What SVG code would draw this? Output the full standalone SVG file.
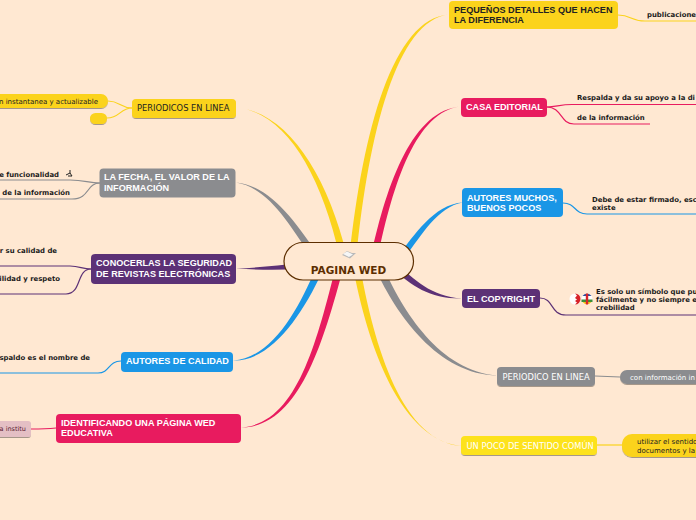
<svg xmlns="http://www.w3.org/2000/svg" width="696" height="520" viewBox="0 0 696 520">
<defs><filter id="s" x="-10%" y="-20%" width="120%" height="150%"><feDropShadow dx="0" dy="1" stdDeviation="0.6" flood-color="#000" flood-opacity="0.35"/></filter></defs>
<style>
.n{filter:url(#s)}
text{font-family:"Liberation Sans",Arial,sans-serif}
.b{font-weight:bold;font-size:9.1px;fill:#fff}
.k{fill:#222}
.r{font-family:"DejaVu Sans",sans-serif;font-size:8.3px}
.t{font-family:"DejaVu Sans",sans-serif;font-weight:bold;font-size:6.9px;fill:#1a1a1a}
.u{font-family:"DejaVu Sans",sans-serif;font-size:7px}
.l{fill:none;stroke-width:1.2}
.y{fill:#fbd31c}.m{fill:#e81b5f}.c{fill:#1a96e6}.p{fill:#5c3176}.g{fill:#8b8c8f}
</style>
<rect width="696" height="520" fill="#ffe8d2"/>
<g id="connectors">
<path class="y" d="M341,262 C322,175 286,112 236,107.500 C288,112 328,175 348,260Z"/>
<path class="y" d="M349,261 C362,135 392,18 449,14.500 C396,20 368,137 356,261Z"/>
<path class="m" d="M370,261 C386,185 412,110 461,106.500 C415,111 392,187 377,261Z"/>
<path class="c" d="M395,259 C412,240 432,204 463,202.500 C434,207 416,246 399,264Z"/>
<path class="p" d="M395,262 C415,280 430,296 462,298.500 C430,299 412,286 392,268Z"/>
<path fill="#8b8c8f" d="M383,266 C402,310 440,372 498,375.500 C438,375 396,314 376,270Z"/>
<path class="y" d="M352,262 C368,350 402,441 462,446 C404,443 374,350 359,260Z"/>
<path fill="#8b8c8f" d="M317,253 C296,224 272,186 236,182.500 C270,188 291,228 313,259Z"/>
<path class="p" d="M300,263 C280,265 258,268 236,268.500 C258,270 280,270 300,269Z"/>
<path class="c" d="M316,268 C298,310 272,358 233,360.500 C270,362 302,316 322,272Z"/>
<path class="m" d="M336,266 C316,345 296,424 241,427.500 C298,427 322,347 343,269Z"/>
<g class="l">
<path stroke="#fbd31c" d="M132,108 C120,108 120,101 108,101"/>
<path stroke="#fbd31c" d="M132,108 C120,108 120,118 107,118"/>
<path stroke="#8b8c8f" d="M100,183 C88,183 85,180 70,180 L0,180"/>
<path stroke="#8b8c8f" d="M100,183 C86,183 90,199 72,199 L0,199"/>
<path stroke="#5c3176" d="M91,269 C82,269 80,266 70,266 L0,266"/>
<path stroke="#5c3176" d="M91,269 C76,269 82,294 66,294 L0,294"/>
<path stroke="#1a96e6" d="M121,361 C108,361 110,373 98,373 L0,373"/>
<path stroke="#e81b5f" d="M56,428 C46,429 40,429 31,429"/>
<path stroke="#fbd31c" d="M618,15 C632,15 630,21 645,21 L696,21"/>
<path stroke="#e81b5f" d="M547,107 C556,107 560,104.500 572,104.500 L696,104.500"/>
<path stroke="#e81b5f" d="M547,107 C562,107 560,124 574,124 L650,124"/>
<path stroke="#1a96e6" d="M563,203 C576,203 574,214 587,214 L696,214"/>
<path stroke="#5c3176" d="M540,298 C554,298 550,315 566,315 L696,315"/>
<path stroke="#8b8c8f" d="M595,376 L620,377"/>
<path stroke="#fbd31c" d="M597,445 L622,445"/>
</g>
</g>
<g id="center"><rect x="284" y="242.500" width="129.500" height="37.500" rx="19" fill="#ffe8d2" stroke="#5c2e00" stroke-width="1.200"/><path d="M342,255 L347,251 L352,253 L356,253 L350,258.500Z" fill="#b9b9b9"/><path d="M343,254 L347,251.500 L353,254.500 L349,257Z" fill="#f6f6f6"/><text x="348.500" y="274" text-anchor="middle" style="font-family:'DejaVu Sans',sans-serif;font-weight:bold;font-size:10.500px" fill="#5c2e00">PAGINA WED</text></g>
<g id="periodicos"><rect class="n y" x="132" y="99" width="104" height="19" rx="4"/><text class="r k" x="137" y="111">PERIODICOS EN LINEA</text></g>
<g id="periodicos-a"><rect class="n y" x="-10" y="94" width="118" height="14" rx="7"/><text class="k u" x="98" y="104" text-anchor="end">n instantanea y actualizable</text></g>
<g id="periodicos-b"><rect class="n y" x="90" y="113" width="17" height="11" rx="5.500"/></g>
<g id="fecha"><rect class="g" x="99.500" y="168.500" width="136" height="29" rx="4"/><text class="b" x="104" y="180">LA FECHA, EL VALOR DE LA</text><text class="b" x="104" y="191">INFORMACIÓN</text></g>
<g id="fecha-a"><text class="t" x="59" y="176.500" text-anchor="end">e funcionalidad</text><path d="M66,175 L70,173 L70,170 M70,173 L72,176 M68,176 L72,176" fill="none" stroke="#222" stroke-width="1"/></g>
<g id="fecha-b"><text class="t" x="70" y="195" text-anchor="end">de la información</text></g>
<g id="conocerlas"><rect class="p" x="91" y="254" width="145" height="30" rx="4"/><text class="b" x="96" y="266">CONOCERLAS LA SEGURIDAD</text><text class="b" x="96" y="277">DE REVISTAS ELECTRÓNICAS</text></g>
<g id="conocerlas-a"><text class="t" x="57" y="253" text-anchor="end">r su calidad de</text></g>
<g id="conocerlas-b"><text class="t" x="60" y="281" text-anchor="end">ilidad y respeto</text></g>
<g id="autores-calidad"><rect class="c" x="121" y="352" width="112" height="20" rx="4"/><text class="b" x="126" y="364">AUTORES DE CALIDAD</text></g>
<g id="autores-calidad-a"><text class="t" x="90" y="360" text-anchor="end">spaldo es el nombre de</text></g>
<g id="identificando"><rect class="m" x="56" y="414" width="185" height="29" rx="4"/><text class="b" x="61" y="426">IDENTIFICANDO UNA PÁGINA WED</text><text class="b" x="61" y="436">EDUCATIVA</text></g>
<g id="identificando-a"><rect class="n" x="-10" y="421" width="41" height="16" rx="3" fill="#e4bfc4"/><text x="26" y="431" text-anchor="end" fill="#5a1a30" style="font-family:'DejaVu Sans',sans-serif;font-size:6.500px">a institu</text></g>
<g id="pequenos"><rect class="y" x="449" y="1" width="169" height="28" rx="4"/><text class="b k" x="454" y="13">PEQUEÑOS DETALLES QUE HACEN</text><text class="b k" x="454" y="23">LA DIFERENCIA</text></g>
<g id="pequenos-a"><text class="t" x="647" y="17">publicacione</text></g>
<g id="casa"><rect class="m" x="461" y="98" width="86" height="19" rx="4"/><text class="b" x="466" y="110">CASA EDITORIAL</text></g>
<g id="casa-a"><text class="t" x="577" y="100">Respalda y da su apoyo a la di</text></g>
<g id="casa-b"><text class="t" x="577" y="120">de la información</text></g>
<g id="autores-muchos"><rect class="c" x="462" y="188" width="101" height="29" rx="4"/><text class="b" x="467" y="201">AUTORES MUCHOS,</text><text class="b" x="467" y="211">BUENOS POCOS</text></g>
<g id="autores-muchos-a"><text class="t" x="592" y="202">Debe de estar firmado, esc</text><text class="t" x="592" y="210">existe</text></g>
<g id="copyright"><rect class="p" x="462" y="289" width="78" height="19" rx="4"/><text class="b" x="467" y="302">EL COPYRIGHT</text></g>
<g id="copyright-a"><circle cx="575" cy="299" r="5.500" fill="#fff"/><path d="M575,293.500 A5.500,5.500 0 0 1 575,304.500 L577,302.500 L575,301 L577,299.500 L575,298 L577,295.500Z" fill="#d8232a"/><circle cx="587" cy="299" r="5.500" fill="#fff"/><path d="M582.500,296 A5.500,5.500 0 0 1 591.500,296Z" fill="#2a4fa0"/><path d="M581.500,299.500 H592.500 V302 H581.500Z" fill="#3a8f3a"/><path d="M582.500,302 H591.500 A5.500,5.500 0 0 1 582.500,302Z" fill="#f5c518"/><rect x="585.800" y="293.500" width="2.400" height="11" fill="#d8232a"/><text class="t" x="596" y="293.500">Es solo un símbolo que pu</text><text class="t" x="596" y="301.500">fácilmente y no siempre e</text><text class="t" x="596" y="310">crebilidad</text></g>
<g id="periodico"><rect class="n g" x="497" y="367" width="98" height="19" rx="4"/><text class="r" x="502.500" y="380" fill="#fff">PERIODICO EN LINEA</text></g>
<g id="periodico-a"><rect class="n g" x="620" y="370" width="90" height="14" rx="7"/><text class="u" x="630" y="380" fill="#fff">con información in</text></g>
<g id="sentido"><rect class="n" x="461" y="436" width="136" height="19" rx="4" fill="#fde21c"/><text class="r" x="466.500" y="449" fill="#fff">UN POCO DE SENTIDO COMÚN</text></g>
<g id="sentido-a"><rect class="n y" x="622" y="434" width="90" height="23" rx="10"/><text class="k u" x="637" y="444">utilizar el sentido</text><text class="k u" x="637" y="453">documentos y la</text></g>
</svg>
